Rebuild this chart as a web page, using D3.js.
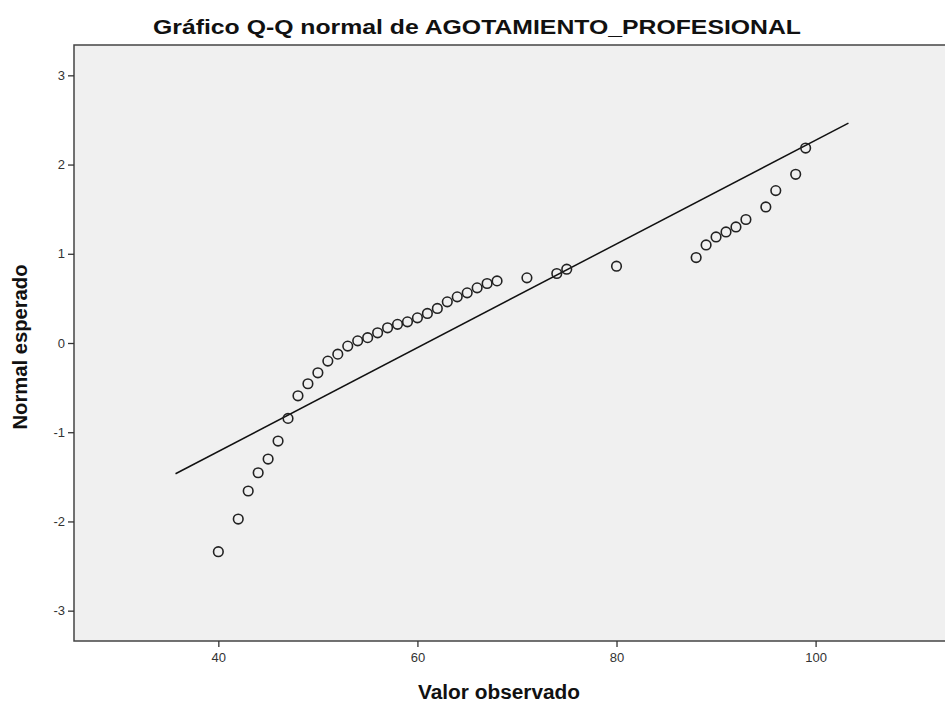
<!DOCTYPE html>
<html>
<head>
<meta charset="utf-8">
<script src="https://cdn.jsdelivr.net/npm/d3@7"></script>
<style>
  body { margin: 0; background: #fff; }
  text { font-family: "Liberation Sans", Arial, sans-serif; }
</style>
</head>
<body>
<script>
// Observed values and their expected normal scores
const observed = [40, 42, 43, 44, 45, 46, 47, 48, 49, 50, 51, 52, 53, 54, 55, 56, 57, 58, 59, 60,
                  61, 62, 63, 64, 65, 66, 67, 68, 71, 74, 75, 80, 88, 89, 90, 91, 92, 93, 95, 96, 98, 99];
const expected = [-2.339, -1.973, -1.659, -1.454, -1.301, -1.099, -0.845, -0.592, -0.457, -0.334,
                  -0.203, -0.125, -0.035, 0.024, 0.060, 0.114, 0.170, 0.209, 0.237, 0.282,
                  0.331, 0.387, 0.461, 0.517, 0.562, 0.618, 0.667, 0.696, 0.730, 0.779,
                  0.827, 0.861, 0.958, 1.099, 1.189, 1.245, 1.301, 1.384, 1.525, 1.708, 1.891, 2.185];

// Reference line: expected = (x - mean) / sd
const lineMean = 60.9, lineSd = 17.2;
const lineEnds = [35.7, 103.3];

const xTicks = [40, 60, 80, 100];
const yTicks = [-3, -2, -1, 0, 1, 2, 3];

const width = 945, height = 705;
const plot = { left: 74, top: 45, right: 946, bottom: 641 };

const svg = d3.select("body").append("svg")
    .attr("width", width)
    .attr("height", height);

const x = d3.scaleLinear().domain([25.5, 113.1]).range([plot.left, plot.right]);
const y = d3.scaleLinear().domain([-3.34, 3.34]).range([plot.bottom, plot.top]);

// Plot background
svg.append("rect")
    .attr("x", plot.left)
    .attr("y", plot.top)
    .attr("width", plot.right - plot.left)
    .attr("height", plot.bottom - plot.top)
    .attr("fill", "#f0f0f0")
    .attr("stroke", "#444")
    .attr("stroke-width", 1.5);

// Axes (plain hyphen for negatives, like the original)
const fmt = d => String(d);
const xAxis = svg.append("g")
    .attr("transform", `translate(0,${plot.bottom})`)
    .call(d3.axisBottom(x).tickValues(xTicks).tickSize(6).tickPadding(6).tickFormat(fmt));
const yAxis = svg.append("g")
    .attr("transform", `translate(${plot.left},0)`)
    .call(d3.axisLeft(y).tickValues(yTicks).tickSize(6).tickPadding(3).tickFormat(fmt));

[xAxis, yAxis].forEach(g => {
    g.select(".domain").remove();
    g.selectAll("line").attr("stroke", "#333").attr("stroke-width", 1.3);
    g.selectAll("text").attr("fill", "#333").style("font-size", "13px");
});

// Reference line
svg.append("line")
    .attr("x1", x(lineEnds[0]))
    .attr("y1", y((lineEnds[0] - lineMean) / lineSd))
    .attr("x2", x(lineEnds[1]))
    .attr("y2", y((lineEnds[1] - lineMean) / lineSd))
    .attr("stroke", "#111")
    .attr("stroke-width", 1.5);

// Points
svg.selectAll("circle.pt")
    .data(observed.map((v, i) => ({ v, z: expected[i] })))
    .enter()
    .append("circle")
    .attr("class", "pt")
    .attr("cx", d => x(d.v))
    .attr("cy", d => y(d.z))
    .attr("r", 4.8)
    .attr("fill", "none")
    .attr("stroke", "#222")
    .attr("stroke-width", 1.6);

// Title and axis labels
svg.append("text")
    .attr("x", 477)
    .attr("y", 34)
    .attr("text-anchor", "middle")
    .attr("textLength", 648)
    .attr("lengthAdjust", "spacingAndGlyphs")
    .style("font-size", "21px")
    .style("font-weight", "bold")
    .attr("fill", "#111")
    .text("Gráfico Q-Q normal de AGOTAMIENTO_PROFESIONAL");

svg.append("text")
    .attr("x", 499)
    .attr("y", 699)
    .attr("text-anchor", "middle")
    .attr("textLength", 162)
    .attr("lengthAdjust", "spacingAndGlyphs")
    .style("font-size", "20px")
    .style("font-weight", "bold")
    .attr("fill", "#111")
    .text("Valor observado");

svg.append("text")
    .attr("transform", "translate(27,347) rotate(-90)")
    .attr("text-anchor", "middle")
    .attr("textLength", 165)
    .attr("lengthAdjust", "spacingAndGlyphs")
    .style("font-size", "20px")
    .style("font-weight", "bold")
    .attr("fill", "#111")
    .text("Normal esperado");
</script>
</body>
</html>
